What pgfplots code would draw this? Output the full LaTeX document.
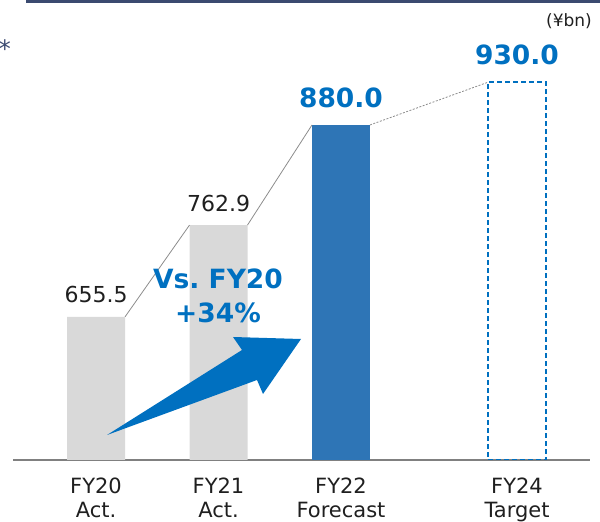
\documentclass[border=0pt]{standalone}
\usepackage{fontspec}
\setmainfont{DejaVu Sans}
\usepackage{pgfplots}
\pgfplotsset{compat=1.18}
\definecolor{barGray}{HTML}{D9D9D9}
\definecolor{barBlue}{HTML}{2E75B6}
\definecolor{txtBlue}{HTML}{0070C0}
\definecolor{navy}{HTML}{3B4A70}
\begin{document}
\begin{tikzpicture}
\path[use as bounding box] (0,0) rectangle (600pt,522pt);
\begin{axis}[
 at={(13pt,62pt)}, anchor=south west,
 scale only axis, width=577pt, height=460pt,
 xmin=-0.678, xmax=4.033, ymin=488, ymax=1026.2,
 axis x line*=bottom, axis y line=none,
 x axis line style={-, draw=black!50, line width=1.2pt},
 xtick={0,1,2,3.437},
 xticklabels={{FY20\\Act.},{FY21\\Act.},{FY22\\Forecast},{FY24\\Target}},
 xticklabel style={align=center, font=\fontsize{21}{24}\selectfont, inner sep=0pt, yshift=-18pt, text=black!88},
 major tick length=0pt,
 ytick=\empty,
]
\addplot[ybar, bar width=58pt, bar shift=0pt, fill=barGray, draw=none,
  nodes near coords, point meta=explicit symbolic,
  every node near coord/.append style={font=\fontsize{22}{24}\selectfont, text=black!88, anchor=base, inner sep=0pt, yshift=14pt}]
  coordinates {(0,655.5)[655.5] (1,762.9)[762.9]};
\addplot[ybar, bar width=58pt, bar shift=0pt, fill=barBlue, draw=none,
  nodes near coords, point meta=explicit symbolic,
  every node near coord/.append style={font=\bfseries\fontsize{26.5}{30}\selectfont, text=txtBlue, anchor=base, inner sep=0pt, yshift=17.5pt}]
  coordinates {(2,880.0)[880.0]};
\addplot[ybar, bar width=58pt, bar shift=0pt, fill=none, draw=txtBlue, line width=1.5pt, dash pattern=on 5pt off 3pt,
  nodes near coords, point meta=explicit symbolic,
  every node near coord/.append style={font=\bfseries\fontsize{26.5}{30}\selectfont, text=txtBlue, anchor=base, inner sep=0pt, yshift=17.5pt, solid}]
  coordinates {(3.437,930.0)[930.0]};
\addplot[draw=black!45, line width=0.8pt, mark=none] coordinates {(0.2367,655.5) (0.7633,762.9)};
\addplot[draw=black!45, line width=0.8pt, mark=none] coordinates {(1.2367,762.9) (1.7633,880.0)};
\addplot[draw=black!45, line width=0.8pt, mark=none, dash pattern=on 2pt off 1.5pt] coordinates {(2.2367,880.0) (3.2003,930.0)};
\end{axis}
\begin{scope}[x=1pt, y=-1pt, shift={(0pt,522pt)}]
\draw[navy, line width=2.2pt] (26,1.5) -- (600,1.5);
\node[anchor=base east, text=navy, font=\fontsize{24}{24}\selectfont, inner sep=0pt] at (11,58) {s*};
\node[font=\fontsize{17}{18}\selectfont, text=black!88] at (569,21) {(¥bn)};
\fill[txtBlue] (107,435) -- (242,350) -- (233,337) -- (301,339) -- (263,394) -- (257,380) -- cycle;
\node[font=\bfseries\fontsize{26.5}{34}\selectfont, text=txtBlue, align=center] at (218,296) {Vs.\ FY20\\+34\%};
\end{scope}
\end{tikzpicture}
\end{document}
